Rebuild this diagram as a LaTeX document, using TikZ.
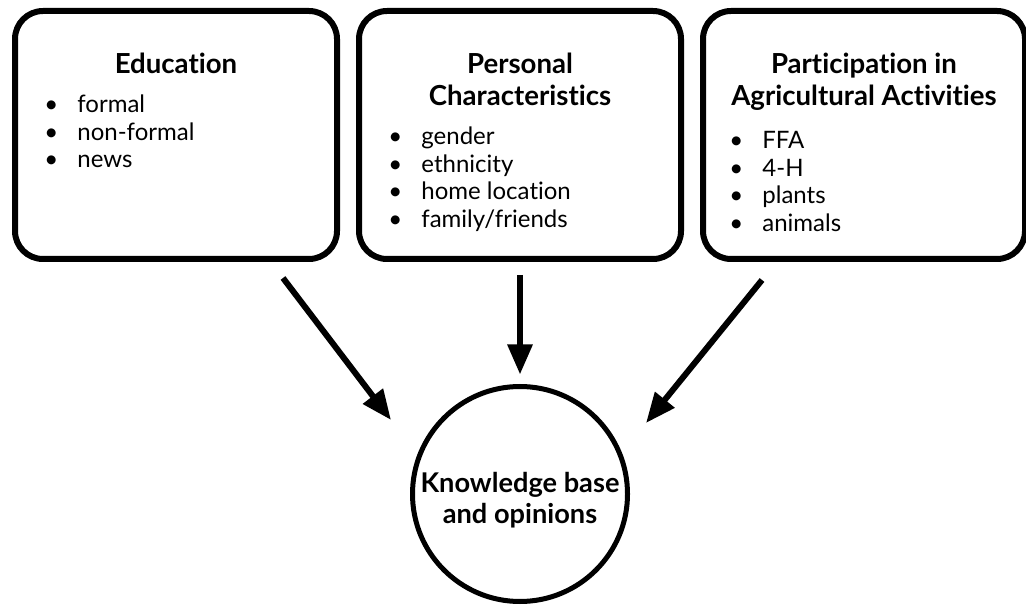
\documentclass[tikz,border=0pt]{standalone}
\usepackage{fontspec}
\setmainfont{Lato}[Ligatures=NoCommon]
\usetikzlibrary{positioning,arrows.meta}

\begin{document}
\begin{tikzpicture}[node distance=172pt,on grid,
    box/.style={draw,line width=3pt,rounded corners=14pt,minimum width=161pt,minimum height=124pt,outer sep=0pt},
    head/.style={font=\bfseries\fontsize{13.8}{16}\selectfont,align=center,anchor=north,inner sep=0pt},
    items/.style={font=\fontsize{12}{13.75}\selectfont,align=left,anchor=north west,inner sep=0pt},
    flow/.style={line width=3pt,-{Triangle[length=15pt,width=12pt]}}]
   \useasboundingbox (0,0) rectangle (513pt,-304pt);
   \newcommand{\itm}[1]{\makebox[16.5pt][l]{\textbullet}#1}

   \node[box] (edu) at (88pt,-67.5pt) {};
   \node[box] (pers) [right=of edu] {};
   \node[box] (agr)  [right=of pers] {};
   \node[circle, draw, line width=2.5pt, minimum size=107.5pt] (kb) [below=179.5pt of pers] {};

   \node[head] (edut)  at ([yshift=-21pt]edu.north)  {Education};
   \node[head] (perst) at ([yshift=-21pt]pers.north) {Personal\\Characteristics};
   \node[head] (agrt)  at ([yshift=-21pt]agr.north)  {Participation in\\Agricultural Activities};
   \node[font=\bfseries\fontsize{13.6}{15.5}\selectfont, align=center, inner sep=0pt] (kbt)
        at ([yshift=-3pt]kb.center) {Knowledge base\\and opinions};

   \node[items] (edul)  at ([xshift=14.5pt,yshift=-10pt]edu.west |- edut.south)
        {\itm{formal}\\\itm{non-formal}\\\itm{news}};
   \node[items] (persl) at ([xshift=14.5pt,yshift=-10pt]pers.west |- perst.south)
        {\itm{gender}\\\itm{ethnicity}\\\itm{home location}\\\itm{family/friends}};
   \node[items] (agrl)  at ([xshift=13pt,yshift=-10pt]agr.west |- agrt.south)
        {\itm{FFA}\\\itm{4-H}\\\itm{plants}\\\itm{animals}};

   \draw[flow] ([shift={(53.5pt,-9.5pt)}]edu.south) -- ([shift={(-64.5pt,37pt)}]kb.center);
   \draw[flow] ([yshift=-8pt]pers.south) -- ([yshift=4.75pt]kb.north);
   \draw[flow] ([shift={(-51pt,-10.5pt)}]agr.south) -- ([shift={(63pt,35.5pt)}]kb.center);
\end{tikzpicture}
\end{document}
